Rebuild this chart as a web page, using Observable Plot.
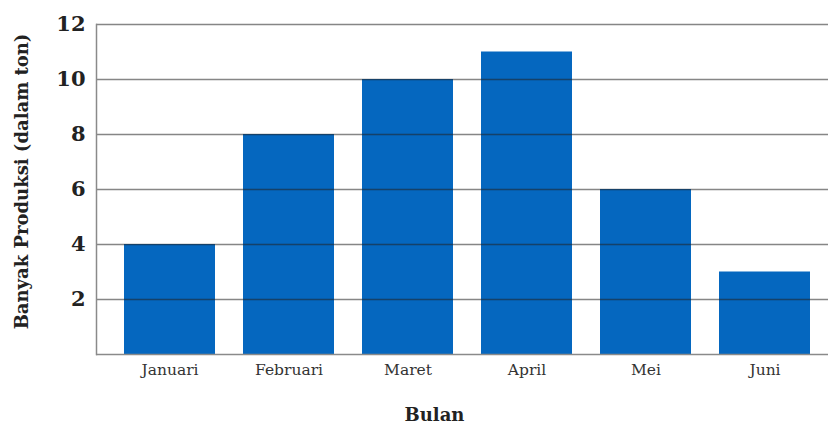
<!DOCTYPE html>
<html>
<head>
<meta charset="utf-8">
<script src="https://cdn.jsdelivr.net/npm/d3@7"></script>
<script src="https://cdn.jsdelivr.net/npm/@observablehq/plot@0.6"></script>
<style>
  html, body { margin: 0; padding: 0; background: #fff; }
  #chart svg { display: block; background: #fff; }
</style>
</head>
<body>
<div id="chart"></div>
<script>
const months = ["Januari", "Februari", "Maret", "April", "Mei", "Juni"];
const production = [4, 8, 10, 11, 6, 3];
const yTicks = [2, 4, 6, 8, 10, 12];
const xTitle = "Bulan";
const yTitle = "Banyak Produksi (dalam ton)";

const data = months.map((m, i) => ({month: m, value: production[i]}));
const serif = "'DejaVu Serif', 'Liberation Serif', serif";

const chart = Plot.plot({
  width: 828,
  height: 430,
  marginLeft: 96,
  marginRight: 0,
  marginTop: 24,
  marginBottom: 76,
  style: {fontFamily: serif, background: "#fff"},
  x: {domain: months, paddingInner: 0.238, paddingOuter: 0.192, align: 0.61, label: null},
  y: {domain: [0, 12], label: null},
  marks: [
    Plot.barY(data, {x: "month", y: "value", fill: "#0567bf"}),
    Plot.ruleY(yTicks, {stroke: "#222", strokeOpacity: 0.55, strokeWidth: 1.3}),
    Plot.ruleY([0], {stroke: "#8a8a8a", strokeWidth: 1.5}),
    Plot.frame({anchor: "left", stroke: "#8a8a8a", strokeWidth: 1.5}),
    Plot.axisY(yTicks, {tickSize: 0, tickPadding: 11, fontSize: 21, fontWeight: "bold", fill: "#222", label: null}),
    Plot.axisX({tickSize: 0, tickPadding: 9, fontSize: 15.5, fill: "#333", label: null}),
    Plot.text([xTitle], {frameAnchor: "bottom", dx: -28, dy: 66, fontSize: 18, fontWeight: "bold", fill: "#222"}),
    Plot.text([yTitle], {frameAnchor: "left", textAnchor: "middle", dx: -74, dy: -8, rotate: -90, fontSize: 18, fontWeight: "bold", fill: "#222"})
  ]
});
document.getElementById("chart").appendChild(chart);
</script>
</body>
</html>
